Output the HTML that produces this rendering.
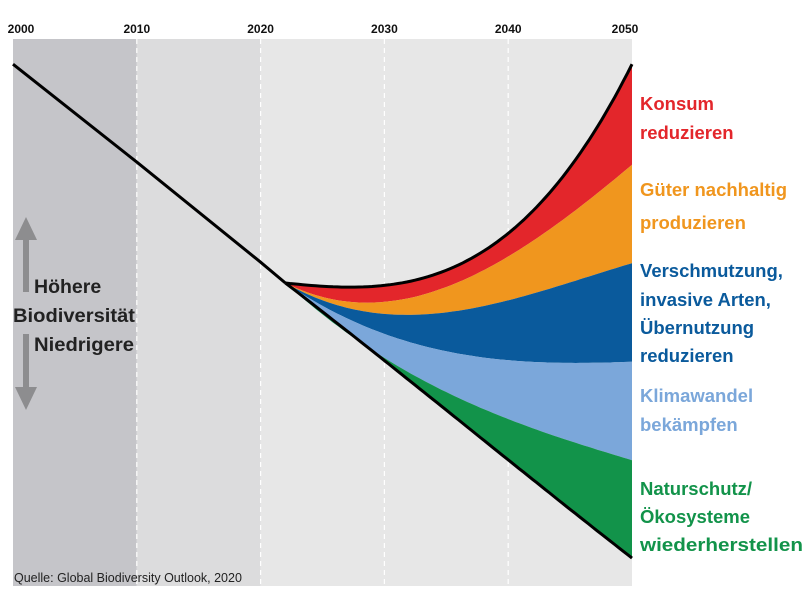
<!DOCTYPE html>
<html><head><meta charset="utf-8">
<style>
html,body{margin:0;padding:0;background:#fff;}
svg{display:block;font-family:"Liberation Sans",sans-serif;}
</style></head>
<body>
<svg id="chart" width="806" height="594" viewBox="0 0 806 594" xmlns="http://www.w3.org/2000/svg">
  <g id="bg"></g>
  <g id="bands"></g>
  <g id="lines"></g>
</svg>
<script>
const tickYears = [2000, 2010, 2020, 2030, 2040, 2050];
const historyYears = [2000, 2010, 2020, 2022];
const historyValues = [95.4, 77.5, 59.2, 55.4];
const futureYears = [2022, 2025, 2030, 2035, 2040, 2045, 2050];
const topLine       = [55.4, 53.7, 54.5, 58.7, 65.4, 74.8, 95.4];
const redOrange     = [55.4, 53.2, 51.9, 55.0, 59.0, 69.1, 77.0];
const orangeBlue    = [55.4, 52.7, 49.5, 50.1, 51.9, 55.9, 59.0];
const blueLight     = [55.4, 51.9, 45.5, 43.1, 41.3, 40.8, 41.0];
const lightGreen    = [55.4, 51.4, 40.8, 35.3, 30.3, 27.2, 23.0];
const bottomLine    = [55.4, 50.3, 41.1, 32.2, 23.0, 14.1, 5.1];
const bandNames = ["konsum","gueter","verschmutzung","klima","naturschutz"];
const bandColors = ["#e3262b","#f0961e","#0a5a9c","#7ba7da","#12934a"];

const NS = "http://www.w3.org/2000/svg";
const X0 = 13, X1 = 632, Y0 = 39, Y1 = 586;
const xScale = yr => X0 + (yr - 2000) / 50 * (X1 - X0);
const yScale = v => Y0 + (100 - v) * (Y1 - Y0) / 100;

function mk(tag, attrs, parent){
  const e = document.createElementNS(NS, tag);
  for (const k in attrs) e.setAttribute(k, attrs[k]);
  parent.appendChild(e); return e;
}
// weighted least-squares cubic smoothing through the read points
function fitCubic(xs, ys){
  const n=4, A=[...Array(n)].map(()=>Array(n+1).fill(0));
  xs.forEach((x,i)=>{
    const w = (i===0||i===xs.length-1)?50:1;
    const t=(x-xs[0])/(xs[xs.length-1]-xs[0]);
    const pw=[1,t,t*t,t*t*t];
    for(let r=0;r<n;r++){for(let c=0;c<n;c++)A[r][c]+=w*pw[r]*pw[c];A[r][n]+=w*pw[r]*ys[i];}
  });
  for(let i=0;i<n;i++){
    let m=i;for(let k=i+1;k<n;k++)if(Math.abs(A[k][i])>Math.abs(A[m][i]))m=k;
    [A[i],A[m]]=[A[m],A[i]];
    for(let k=0;k<n;k++)if(k!==i){const f=A[k][i]/A[i][i];for(let j=i;j<=n;j++)A[k][j]-=f*A[i][j];}
  }
  const co=A.map((r,i)=>r[n]/r[i]);
  return t=>co[0]+co[1]*t+co[2]*t*t+co[3]*t*t*t;
}
function curvePts(years, vals){
  const f = fitCubic(years, vals), a=years[0], b=years[years.length-1];
  const out=[];
  for(let i=0;i<=80;i++){const t=i/80;out.push([xScale(a+(b-a)*t), yScale(f(t))]);}
  return out;
}
const bg = document.getElementById('bg');
let r;
r = mk('rect',{x:X0,y:Y0,width:xScale(2010)-X0,height:Y1-Y0,fill:'#c5c5c9'},bg);
 
r = mk('rect',{x:xScale(2010),y:Y0,width:xScale(2020)-xScale(2010),height:Y1-Y0,fill:'#dcdcdd'},bg);
 
r = mk('rect',{x:xScale(2020),y:Y0,width:X1-xScale(2020),height:Y1-Y0,fill:'#e7e7e7'},bg);
 
tickYears.forEach(yr=>{
  if (yr>2000 && yr<2050){
    const l = mk('line',{x1:xScale(yr),x2:xScale(yr),y1:Y0,y2:Y1,stroke:'#fff','stroke-width':1.2,'stroke-dasharray':'5,4'},bg);
     
  }
  const cx = Math.min(Math.max(xScale(yr),21),625);
  const t = mk('text',{x:cx,y:33,'text-anchor':'middle','font-size':12,'font-weight':'bold',fill:'#111'},bg);
  t.textContent = yr;
   
});

const bounds = [topLine, redOrange, orangeBlue, blueLight, lightGreen, bottomLine];
const bands = document.getElementById('bands');
for (let i=0;i<5;i++){
  const a = curvePts(futureYears, bounds[i]);
  const b = curvePts(futureYears, bounds[i+1]).reverse();
  const d = 'M'+a.concat(b).map(p=>p[0].toFixed(1)+','+p[1].toFixed(1)).join('L')+'Z';
  const p = mk('path',{d:d,fill:bandColors[i]},bands);
   
}
const lines = document.getElementById('lines');
const hist = historyYears.map((y,i)=>[xScale(y),yScale(historyValues[i])]);
const toD = pts => 'M'+pts.map(p=>p[0].toFixed(1)+','+p[1].toFixed(1)).join('L');
let pl = mk('path',{d:toD(hist),fill:'none',stroke:'#000','stroke-width':3,'stroke-linejoin':'round'},lines);
 
pl = mk('path',{d:toD(curvePts(futureYears, topLine)),fill:'none',stroke:'#000','stroke-width':3},lines);
 
pl = mk('path',{d:toD(curvePts(futureYears, bottomLine)),fill:'none',stroke:'#000','stroke-width':3},lines);
 
</script>
<svg style="position:absolute;left:0;top:0" width="806" height="594">
  <g font-family="Liberation Sans, sans-serif" font-weight="bold" font-size="18.5">
    <g fill="#e3262b">
      <text x="640" y="110">Konsum</text><text x="640" y="139">reduzieren</text></g>
    <g fill="#f0961e">
      <text x="640" y="196">Güter nachhaltig</text><text x="640" y="229">produzieren</text></g>
    <g fill="#0a5a9c">
      <text x="640" y="277">Verschmutzung,</text><text x="640" y="306">invasive Arten,</text>
      <text x="640" y="334">Übernutzung</text><text x="640" y="362">reduzieren</text></g>
    <g fill="#7ba7da">
      <text x="640" y="402">Klimawandel</text><text x="640" y="431">bekämpfen</text></g>
    <g fill="#12934a">
      <text x="640" y="495">Naturschutz/</text><text x="640" y="523">Ökosysteme</text>
      <text x="640" y="551" textLength="163" lengthAdjust="spacingAndGlyphs">wiederherstellen</text></g>
  </g>
  <g>
    <path d="M23,292 L23,240 L15,240 L26,217 L37,240 L29,240 L29,292 Z" fill="#8d8d8f"/>
    <path d="M23,334 L23,387 L15,387 L26,410 L37,387 L29,387 L29,334 Z" fill="#8d8d8f"/>
    <g font-family="Liberation Sans, sans-serif" font-weight="bold" font-size="19.5" fill="#222">
      <text x="34" y="293">Höhere</text>
      <text x="13" y="322" textLength="122" lengthAdjust="spacingAndGlyphs">Biodiversität</text>
      <text x="34" y="351" textLength="100" lengthAdjust="spacingAndGlyphs">Niedrigere</text>
    </g>
  </g>
  <text x="14" y="582" font-family="Liberation Sans, sans-serif" font-size="12.5" fill="#222">Quelle: Global Biodiversity Outlook, 2020</text>
</svg>
</body></html>
